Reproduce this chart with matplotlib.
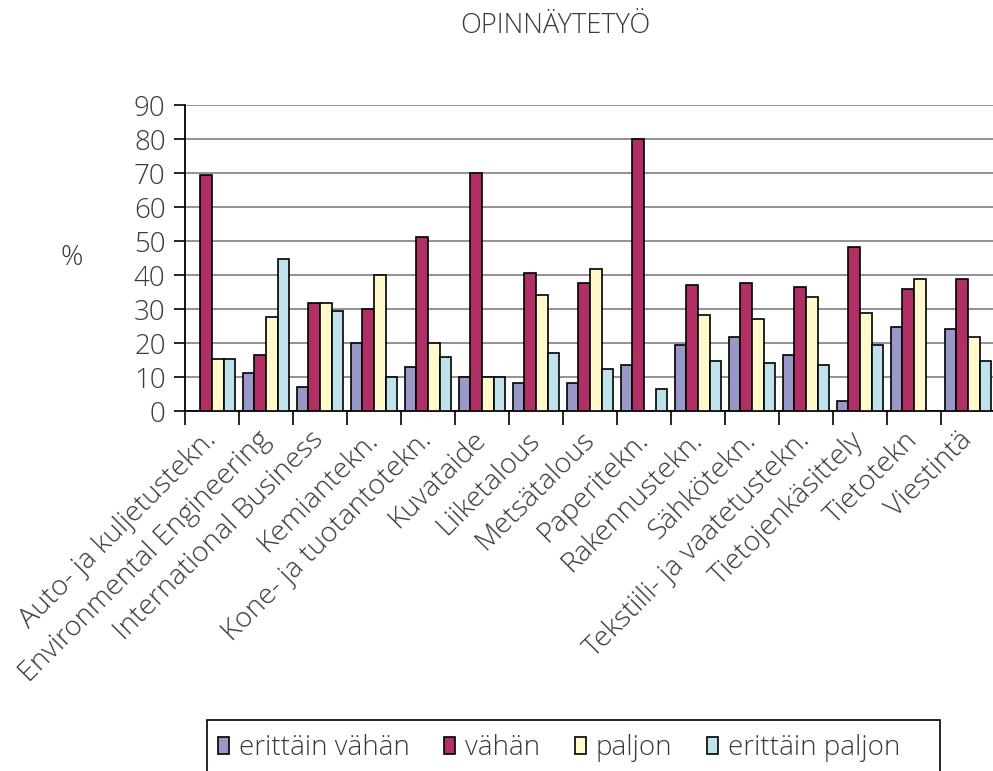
import numpy as np
import matplotlib
matplotlib.use('Agg')
import matplotlib.pyplot as plt
from matplotlib.patches import Rectangle

plt.rcParams['font.family'] = ['Open Sans', 'DejaVu Sans']
plt.rcParams['font.weight'] = 'light'

categories = ['Auto- ja kuljetustekn.', 'Environmental Engineering',
              'International Business', 'Kemiantekn.', 'Kone- ja tuotantotekn.',
              'Kuvataide', 'Liiketalous', 'Metsätalous', 'Paperitekn.',
              'Rakennustekn.', 'Sähkötekn.', 'Tekstiili- ja vaatetustekn.',
              'Tietojenkäsittely', 'Tietotekn', 'Viestintä']

erittain_vahan = [np.nan, 11.1, 7.1, 19.9, 12.9, 10.0, 8.1, 8.1, 13.5, 19.3,
                  21.8, 16.5, 2.8, 24.7, 24.1]
vahan = [69.3, 16.5, 31.8, 30.0, 51.2, 70.0, 40.6, 37.6, 80.0, 37.0,
         37.6, 36.5, 48.2, 35.9, 38.8]
paljon = [15.2, 27.6, 31.8, 40.0, 20.0, 10.0, 34.0, 41.8, np.nan, 28.2,
          27.1, 33.5, 28.8, 38.8, 21.8]
erittain_paljon = [15.2, 44.6, 29.4, 10.0, 15.8, 10.0, 17.0, 12.4, 6.4, 14.7,
                   14.1, 13.5, 19.4, np.nan, 14.7]

series = [erittain_vahan, vahan, paljon, erittain_paljon]
names = ['erittäin vähän', 'vähän', 'paljon', 'erittäin paljon']
colors = ['#9A97C9', '#B03066', '#FFF9CC', '#C0E3EB']
txt = '#3a3a3a'

fig = plt.figure(figsize=(9.93, 7.71), dpi=100)
ax = fig.add_axes([185/993, 1-411/771, 810/993, 306/771])

x = np.arange(len(categories))
w = 0.217
for k, (vals, name, col) in enumerate(zip(series, names, colors)):
    ax.bar(x + (k - 1.5)*w, vals, w, color=col, edgecolor='black',
           linewidth=1.2, label=name, zorder=3)

ax.set_xlim(-0.5, len(categories) - 0.5)
ax.set_ylim(0, 90)
ax.set_yticks(range(0, 91, 10))
ax.yaxis.grid(True, color='#7f7f7f', linewidth=1.2, zorder=0)
ax.set_axisbelow(True)

ax.set_xticks(x)
ax.set_xticklabels(categories, rotation=45, ha='right', va='center',
                   rotation_mode='anchor', fontsize=20.5, color=txt)
ax.tick_params(axis='x', which='major', length=0, pad=18)
ax.set_xticks(np.arange(-0.5, len(categories)), minor=True)
ax.tick_params(axis='x', which='minor', length=10, width=1.2, direction='out')
ax.tick_params(axis='y', length=8, width=1.2, pad=6, labelsize=20,
               labelcolor=txt)

for s in ['top', 'right']:
    ax.spines[s].set_visible(False)
ax.spines['left'].set_linewidth(1.3)
ax.spines['bottom'].set_linewidth(1.3)

fig.text(555/993, 1-26/771, 'OPINNÄYTETYÖ', ha='center', va='center',
         fontsize=19.5, color=txt)
fig.text(72/993, 1-258/771, '%', ha='center', va='center', fontsize=20,
         color=txt)

fig.patches.append(Rectangle((207/993, 1-790/771), 733/993, 70/771,
                             transform=fig.transFigure, facecolor='none',
                             edgecolor='black', linewidth=1.2))
fig.legend(loc='center left', bbox_to_anchor=(218/993, 1-748/771), ncol=4,
           frameon=False, fontsize=20, handlelength=0.4, handleheight=0.55,
           handletextpad=0.35, columnspacing=1.25, borderpad=0, borderaxespad=0,
           labelcolor=txt)

fig.savefig('out.png', dpi=100)
